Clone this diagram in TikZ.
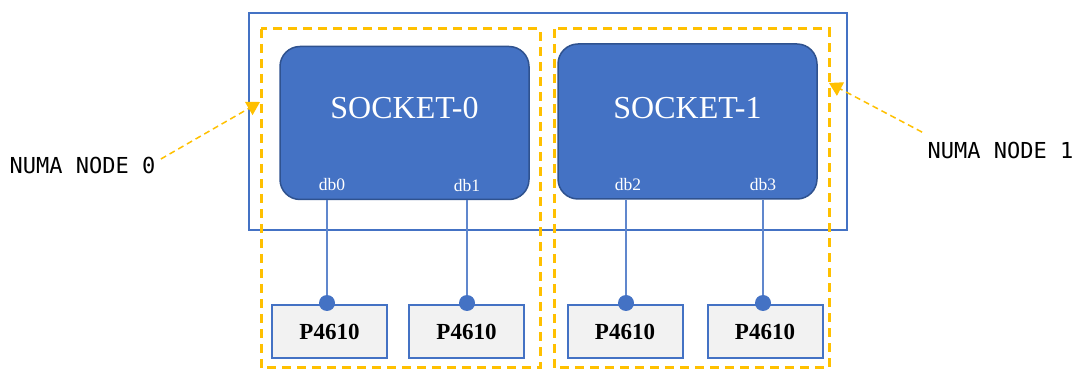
\documentclass[tikz,border=0pt]{standalone}
\usepackage{fontspec}
\setmainfont{Liberation Serif}
\newfontfamily\numafont{DejaVu Sans Mono}
\usetikzlibrary{positioning,arrows.meta}
\definecolor{sockblue}{HTML}{4472C4}
\definecolor{sockedge}{HTML}{2F528F}
\definecolor{numaorange}{HTML}{FFC000}
\definecolor{diskgray}{HTML}{F2F2F2}

\begin{document}
\begin{tikzpicture}[x=1pt, y=-1pt,
    socket/.style={rectangle, draw=sockedge, fill=sockblue, line width=1.5pt, rounded corners=20pt, minimum height=153pt},
    title/.style={text=white, font=\fontsize{32}{36}\selectfont},
    dblabel/.style={text=white, font=\fontsize{17.5}{20}\selectfont, inner sep=1pt},
    disk/.style={rectangle, draw=sockblue, fill=diskgray, line width=2pt, minimum width=115pt, minimum height=53pt, font=\fontsize{23}{26}\selectfont\bfseries},
    dot/.style={circle, fill=sockblue, inner sep=0pt, minimum size=16pt},
    numabox/.style={draw=numaorange, line width=3pt, dash pattern=on 9pt off 6pt},
    numalabel/.style={font=\numafont\fontsize{22}{26}\selectfont},
    numarrow/.style={draw=numaorange, line width=1.5pt, dash pattern=on 6pt off 4pt, -{Triangle[length=13pt,width=15pt]}}]
    \useasboundingbox (0,0) rectangle (1077,371);

    % server and numa nodes
    \draw[sockblue, line width=2pt] (249,13) rectangle (847,230);
    \draw[numabox] (261,29) rectangle (540,368);
    \draw[numabox] (554,29) rectangle (829,368);

    % sockets
    \node (s0) [socket, minimum width=249pt] at (404.5,123) {};
    \node (s1) [socket, minimum width=259pt, minimum height=155pt] at (687.5,121.5) {};
    \node (t0) [title] at ([yshift=15pt]s0.center) {SOCKET-0};
    \node (t1) [title] at ([yshift=13pt]s1.center) {SOCKET-1};

    % disks
    \node (p0) [disk] at (329.5,331.5) {P4610};
    \node (p1) [disk] at (466.5,331.5) {P4610};
    \node (p2) [disk] at (625,331.5) {P4610};
    \node (p3) [disk] at (765,331.5) {P4610};
    \node (d0) [dot] at (327,303) {};
    \node (d1) [dot] at (467,303) {};
    \node (d2) [dot] at (626,303) {};
    \node (d3) [dot] at (763,303) {};

    \draw[sockblue!85, line width=1.2pt] (d0) -- (s0.south -| d0);
    \draw[sockblue!85, line width=1.2pt] (d1) -- (s0.south -| d1);
    \draw[sockblue!85, line width=1.2pt] (d2) -- (s1.south -| d2);
    \draw[sockblue!85, line width=1.2pt] (d3) -- (s1.south -| d3);

    \node (db0) [dblabel, above=8pt] at (s0.south -| 332,0) {db0};
    \node (db1) [dblabel, above=7pt] at (s0.south -| d1) {db1};
    \node (db2) [dblabel, above=8pt] at (s1.south -| 628,0) {db2};
    \node (db3) [dblabel, above=8pt] at (s1.south -| d3) {db3};

    % numa labels
    \node (numa0) [numalabel] at (82.5,165) {NUMA NODE 0};
    \node (numa1) [numalabel] at (1000.5,150) {NUMA NODE 1};
    \coordinate (n0tip) at (260,102);
    \coordinate (n1tip) at (829,83);
    \draw[numarrow] ([xshift=2pt,yshift=6pt]numa0.east) -- (n0tip);
    \draw[numarrow] ([xshift=-2pt,yshift=6pt]numa1.north west) -- (n1tip);
\end{tikzpicture}
\end{document}
